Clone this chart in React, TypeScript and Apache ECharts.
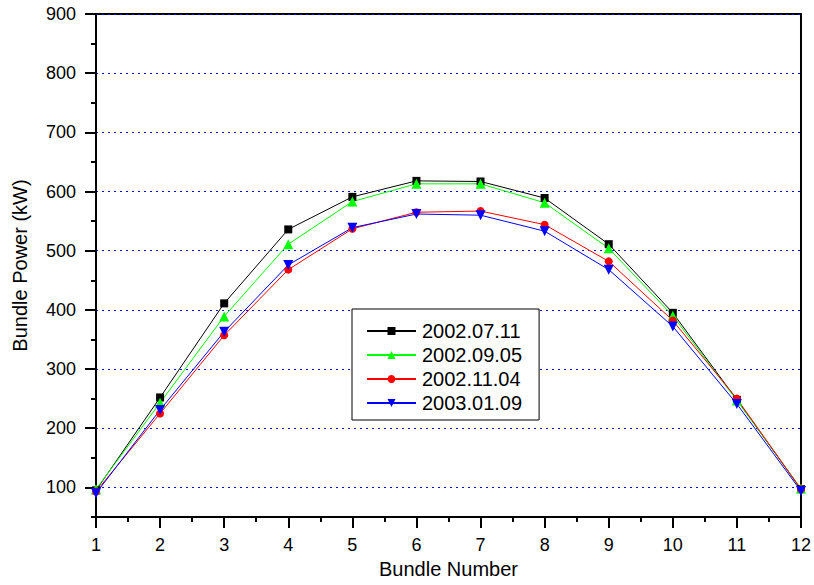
import React, { useEffect, useRef } from "react";
import * as echarts from "echarts";

// Bundle numbers along the channel
const bundles = [1, 2, 3, 4, 5, 6, 7, 8, 9, 10, 11, 12];

// Bundle power (kW) per measurement date
const p20020711 = [95, 252, 411, 536, 591, 618, 617, 589, 511, 395, 248, 97];
const p20020905 = [97, 243, 389, 511, 583, 613, 613, 581, 504, 390, 247, 98];
const p20021104 = [93, 225, 357, 468, 537, 565, 567, 544, 482, 382, 250, 97];
const p20030109 = [90, 231, 363, 476, 539, 562, 560, 533, 468, 372, 241, 94];

const yMajorTicks = [100, 200, 300, 400, 500, 600, 700, 800, 900];

const FONT = "'Liberation Sans', Arial, sans-serif";

export default function App() {
  const ref = useRef<HTMLDivElement>(null);

  useEffect(() => {
    if (!ref.current) return;
    const chart = echarts.init(ref.current, null, { renderer: "svg" });

    const mk = (
      name: string,
      vals: number[],
      color: string,
      symbol: string,
      size: number
    ) => ({
      name,
      type: "line",
      yAxisIndex: 0,
      data: bundles.map((b, i) => [b, vals[i]]),
      symbol,
      symbolSize: size,
      showAllSymbol: true,
      lineStyle: { color, width: 1 },
      itemStyle: { color, borderColor: color, borderWidth: 0 },
      emphasis: { disabled: true },
    });

    chart.setOption({
      animation: false,
      backgroundColor: "#fff",
      textStyle: { fontFamily: FONT },
      grid: {
        left: 96,
        right: 12,
        top: 14,
        bottom: 68,
        show: true,
        borderColor: "#000",
        borderWidth: 2,
        backgroundColor: "transparent",
      },
      legend: {
        orient: "vertical",
        left: 352,
        top: 309,
        padding: [12, 17, 7, 14],
        itemGap: 4,
        itemWidth: 49,
        itemHeight: 10,
        borderColor: "#000",
        borderWidth: 1,
        backgroundColor: "#fff",
        textStyle: { fontFamily: FONT, fontSize: 20, color: "#000", padding: [0, 0, 0, 1] },
        data: ["2002.07.11", "2002.09.05", "2002.11.04", "2003.01.09"],
      },
      xAxis: {
        type: "value",
        min: 1,
        max: 12,
        interval: 1,
        name: "Bundle Number",
        nameLocation: "middle",
        nameGap: 41,
        nameTextStyle: { fontFamily: FONT, fontSize: 20, color: "#000" },
        axisLine: { show: true, onZero: false, lineStyle: { color: "#000", width: 2 } },
        axisTick: { show: true, inside: false, length: 11, lineStyle: { color: "#000", width: 2 } },
        minorTick: { show: true, splitNumber: 2, length: 5, lineStyle: { color: "#000", width: 2 } },
        axisLabel: { margin: 19, fontFamily: FONT, fontSize: 18, color: "#000" },
        splitLine: { show: false },
      },
      yAxis: [
        {
          type: "value",
          min: 50,
          max: 900,
          name: "Bundle Power (kW)",
          nameLocation: "middle",
          nameGap: 66,
          nameTextStyle: { fontFamily: FONT, fontSize: 20, color: "#000" },
          axisLine: { show: true, onZero: false, lineStyle: { color: "#000", width: 2 } },
          axisTick: {
            show: true,
            inside: false,
            length: 11,
            customValues: yMajorTicks,
            lineStyle: { color: "#000", width: 2 },
          },
          axisLabel: {
            margin: 20,
            fontFamily: FONT,
            fontSize: 18,
            color: "#000",
            customValues: yMajorTicks,
          },
          splitLine: {
            show: true,
            lineStyle: { color: "#0000ff", width: 1, type: [2, 4] },
          },
        },
        {
          // half-step minor ticks on the left axis
          type: "value",
          min: 50,
          max: 900,
          interval: 100,
          position: "left",
          axisLine: { show: false },
          axisTick: { show: true, inside: false, length: 5, lineStyle: { color: "#000", width: 2 } },
          axisLabel: { show: false },
          splitLine: { show: false },
        },
      ],
      series: [
        mk("2002.07.11", p20020711, "#000000", "rect", 8),
        mk("2002.09.05", p20020905, "#00ff00", "triangle", 10),
        mk("2002.11.04", p20021104, "#ff0000", "circle", 8),
        {
          ...mk("2003.01.09", p20030109, "#0000ff", "triangle", 10),
          symbolRotate: 180,
        },
      ],
    });

    return () => chart.dispose();
  }, []);

  return (
    <div
      ref={ref}
      style={{ position: "fixed", left: 0, top: 0, width: 814, height: 585 }}
    />
  );
}
